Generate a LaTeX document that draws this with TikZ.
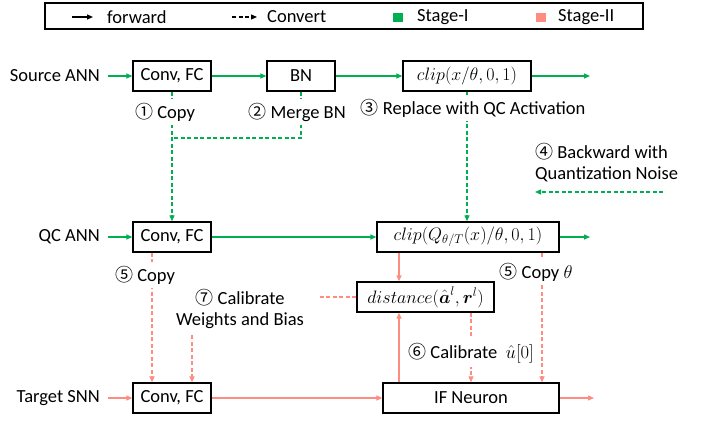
\documentclass[tikz,border=0pt]{standalone}
\usepackage{fix-cm}
\usepackage{amsmath}
\usepackage{fontspec}
\setmainfont{Carlito}
\newfontfamily\circfont{Noto Sans CJK SC}
\usetikzlibrary{arrows.meta}
\definecolor{stgone}{RGB}{0,176,80}
\definecolor{stgtwo}{RGB}{255,140,128}
\newcommand{\cnum}[1]{{\circfont\fontsize{18}{18}\selectfont #1}}
\tikzset{
  txt/.style={font=\fontsize{18.5}{21}\selectfont, inner sep=2pt},
  mathtxt/.style={font=\fontsize{18}{21}\selectfont},
  box/.style={txt, draw, line width=1.3pt, minimum height=30pt, inner sep=0pt},
  cover/.style={txt, fill=white, inner sep=4pt},
  ln/.style={line width=1.2pt},
  fwd/.style={ln, -{Triangle[length=6pt,width=5pt]}},
  cvt/.style={fwd, dash pattern=on 4pt off 2.5pt},
  cvtline/.style={ln, dash pattern=on 4pt off 2.5pt},
}
\begin{document}
\begin{tikzpicture}[x=1pt,y=-1pt]
\useasboundingbox (0,0) rectangle (706,422);

% legend
\node[draw, line width=1.3pt, minimum width=598pt, minimum height=26pt, inner sep=0pt] (legend) at (344,16) {};
\coordinate (lf0) at (72,17);
\coordinate (lf1) at (93,17);
\draw[fwd] (lf0) -- (lf1);
\node[txt, anchor=west] (lfwd) at (105,17) {forward};
\coordinate (lc0) at (232,17);
\coordinate (lc1) at (257,17);
\draw[cvt] (lc0) -- (lc1);
\node[txt, anchor=west] (lcvt) at (265,17) {Convert};
\node[fill=stgone, minimum width=10pt, minimum height=9pt, inner sep=0pt] (sq1) at (398,17.5) {};
\node[txt, anchor=west] (ls1) at (415,17) {Stage-I};
\node[fill=stgtwo, minimum width=10pt, minimum height=9pt, inner sep=0pt] (sq2) at (541,17.5) {};
\node[txt, anchor=west] (ls2) at (556,17) {Stage-II};

% row labels
\node[txt, anchor=east] (srclab) at (102,76) {Source ANN};
\node[txt, anchor=east] (qclab) at (102,237) {QC ANN};
\node[txt, anchor=east] (snnlab) at (102,398) {Target SNN};

% source ANN row
\node[box, minimum width=78pt] (conv1) at (172,76) {Conv, FC};
\node[box, minimum width=68pt] (bn) at (301,76) {BN};
\node[box, mathtxt, minimum width=128pt] (clip1) at (467,76) {$clip(x/\theta,0,1)$};
\coordinate (o1) at (590,76);

% QC ANN row
\node[box, minimum width=78pt] (conv2) at (172,237) {Conv, FC};
\node[box, mathtxt, minimum width=182pt] (clip2) at (468,237) {$clip(Q_{\theta/T}(x)/\theta,0,1)$};
\coordinate (o2) at (590,237);

% distance block
\node[box, mathtxt, minimum width=137pt] (dist) at (425.5,297) {$distance(\hat{\boldsymbol{a}}^{l},\boldsymbol{r}^{l})$};

% target SNN row
\node[box, minimum width=78pt] (conv3) at (172,398) {Conv, FC};
\node[box, minimum width=176pt] (ifn) at (471,398) {IF Neuron};
\coordinate (o3) at (594,398);

% helper coordinates
\coordinate (j1) at (172,138);
\coordinate (xa) at (399,0);
\coordinate (xb) at (542,0);
\coordinate (xc) at (152,0);
\coordinate (c7) at (192,335);
\coordinate (c8) at (319,297);
\coordinate (b1) at (663,192);
\coordinate (b2) at (535,192);

% stage I: forward passes
\begin{scope}[stgone]
\draw[fwd, shorten <=6pt] (srclab.east) -- (conv1.west);
\draw[fwd] (conv1.east) -- (bn.west);
\draw[fwd] (bn.east) -- (clip1.west);
\draw[fwd] (clip1.east) -- (o1);
\draw[fwd, shorten <=6pt] (qclab.east) -- (conv2.west);
\draw[fwd] (conv2.east) -- (clip2.west);
\draw[fwd] (clip2.east) -- (o2);
% stage I: conversion
\draw[cvt] (conv1.south) -- (conv2.north);
\draw[cvtline] (bn.south) |- (j1);
\draw[cvt] (clip1.south) -- (clip1.south |- clip2.north);
\draw[cvt] (b1) -- (b2);
\end{scope}

% stage II
\begin{scope}[stgtwo]
\draw[fwd, shorten <=6pt] (snnlab.east) -- (conv3.west);
\draw[fwd] (conv3.east) -- (ifn.west);
\draw[fwd] (ifn.east) -- (o3);
\draw[fwd] (clip2.south -| xa) -- (dist.north -| xa);
\draw[fwd] (ifn.north -| xa) -- (dist.south -| xa);
\draw[cvt] (dist.south -| ifn.north) -- (ifn.north);
\draw[cvt] (clip2.south -| xb) -- (ifn.north -| xb);
\draw[cvt] (conv2.south -| xc) -- (conv3.north -| xc);
\draw[cvt] (c7) -- (conv3.north -| c7);
\draw[cvtline] (dist.west) -- (c8);
\end{scope}

% step labels
\node[cover] (s1) at (165,112) {\cnum{①} Copy};
\node[cover] (s2) at (297,112) {\cnum{②} Merge BN};
\node[cover] (s3) at (473,108) {\cnum{③} Replace with QC Activation};
\node[txt, align=left, anchor=west] (s4) at (533,163) {\cnum{④} Backward with\\Quantization Noise};
\node[cover] (s5a) at (145,275) {\cnum{⑤} Copy};
\node[cover] (s5b) at (536,272) {\cnum{⑤} Copy $\theta$};
\node[cover] (s6) at (471,353) {\cnum{⑥} Calibrate~ $\hat{u}[0]$};
\node[txt, align=center] (s7) at (240,309) {\cnum{⑦} Calibrate\\Weights and Bias};
\end{tikzpicture}
\end{document}
